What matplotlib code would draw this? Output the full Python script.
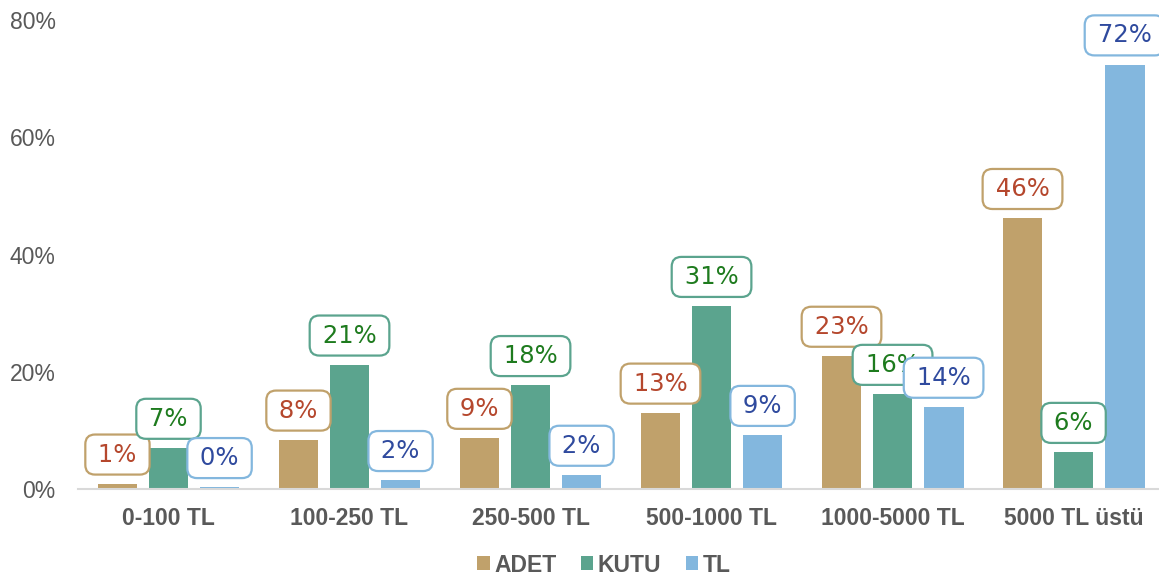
import matplotlib
matplotlib.use("Agg")
import matplotlib.pyplot as plt
import numpy as np

# data (percent)
categories = ["0-100 TL", "100-250 TL", "250-500 TL", "500-1000 TL", "1000-5000 TL", "5000 TL üstü"]
adet = [0.9, 8.4, 8.7, 13.0, 22.7, 46.2]
kutu = [7.0, 21.2, 17.7, 31.2, 16.2, 6.3]
tl = [0.3, 1.5, 2.4, 9.2, 14.0, 72.4]
adet_lbl = ["1%", "8%", "9%", "13%", "23%", "46%"]
kutu_lbl = ["7%", "21%", "18%", "31%", "16%", "6%"]
tl_lbl = ["0%", "2%", "2%", "9%", "14%", "72%"]

series = [
    ("ADET", adet, adet_lbl, "#C0A16B", "#B5472D"),
    ("KUTU", kutu, kutu_lbl, "#5BA48E", "#1E7B1E"),
    ("TL", tl, tl_lbl, "#83B7DE", "#2F4A9E"),
]

plt.rcParams['font.family'] = ['Liberation Sans', 'DejaVu Sans']

fig = plt.figure(figsize=(11.59, 5.78), dpi=100)
ax = fig.add_axes([78 / 1159, 89 / 578, 1 - 78 / 1159, 469 / 578])

x = np.arange(len(categories))
w = 0.22
step = 0.282
for k, (name, vals, lbls, col, tcol) in enumerate(series):
    xs = x + (k - 1) * step
    ax.bar(xs, vals, width=w, color=col, label=name, zorder=2)
    for xi, v, t in zip(xs, vals, lbls):
        # thin spaces widen the box sideways only
        ax.annotate("\u2009" + t + "\u2009", xy=(xi, v), xytext=(0, 21),
                    textcoords="offset points",
                    ha="center", va="center", fontsize=17.5, color=tcol,
                    family="DejaVu Sans", annotation_clip=False, zorder=5,
                    bbox=dict(boxstyle="round,pad=0.33,rounding_size=0.4",
                              fc="white", ec=col, lw=1.6))

ax.set_xlim(-0.5, 5.472)
ax.set_ylim(0, 80)
ax.set_yticks([0, 20, 40, 60, 80])
ax.set_yticklabels(["0%", "20%", "40%", "60%", "80%"])
ax.set_xticks(x)
ax.set_xticklabels(categories, fontweight="bold")
ax.tick_params(axis="both", length=0, labelsize=16.5, labelcolor="#595959")
ax.tick_params(axis="y", pad=16)
ax.tick_params(axis="x", pad=13)
for s in ["top", "right", "left"]:
    ax.spines[s].set_visible(False)
ax.spines["bottom"].set_color("#D9D9D9")
ax.spines["bottom"].set_linewidth(1.5)

leg = fig.legend(loc="center", bbox_to_anchor=(604 / 1159, 1 - 565 / 578), ncol=3,
                 frameon=False, handlelength=0.55, handleheight=0.55,
                 handletextpad=0.2, columnspacing=1.05,
                 prop={"size": 16.5, "weight": "bold"})
for t in leg.get_texts():
    t.set_color("#595959")

fig.savefig("out.png", dpi=100)
